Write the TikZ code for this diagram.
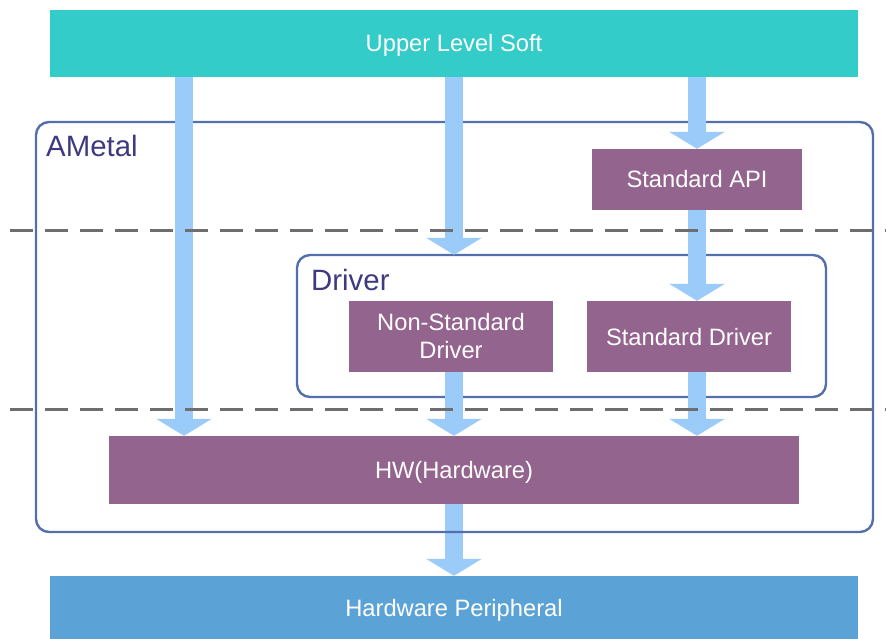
\documentclass[tikz,border=0pt]{standalone}
\usepackage{fontspec}
\setmainfont{Liberation Sans}
\usetikzlibrary{arrows.meta}
\definecolor{teal1}{HTML}{33CCC9}
\definecolor{purp}{HTML}{93648D}
\definecolor{hpblue}{HTML}{5BA3D6}
\definecolor{arrblue}{HTML}{9ACBF9}
\definecolor{framec}{HTML}{5470AC}
\definecolor{navy}{HTML}{3D3A80}
\definecolor{dashc}{HTML}{6E6E6E}
\tikzset{
  box/.style={rectangle, inner sep=0pt, text=white, font=\fontsize{23.7}{28}\selectfont, align=center},
  one/.style={text height=17pt, text depth=0pt},
  pbox/.style={box, fill=purp},
  frm/.style={rectangle, draw=framec, line width=2.4pt, rounded corners=13pt, inner sep=0pt},
  ttl/.style={text=navy, font=\fontsize{29.4}{34}\selectfont, anchor=base west, inner sep=0pt},
  flow/.style={draw=arrblue, line width=18pt, -{Triangle[width=55pt,length=17pt]}},
  sep/.style={draw=dashc, line width=3pt, dash pattern=on 23pt off 12pt},
}
\begin{document}
\begin{tikzpicture}[x=1pt,y=-1pt]
\useasboundingbox (0,0) rectangle (886,639);
% nodes
\node[box, one, fill=teal1, minimum width=808, minimum height=67] (uls) at (454,43.5) {Upper Level Soft};
\node[box, one, fill=hpblue, minimum width=808, minimum height=64] (hp) at (454,608) {Hardware Peripheral};
\node[pbox, one, minimum width=210, minimum height=61] (api) at (697,179.5) {Standard API};
\node[pbox, minimum width=204, minimum height=71] (nsd) at (451,336.5) {Non-Standard\\Driver};
\node[pbox, one, minimum width=204, minimum height=71] (sd) at (689,336.5) {Standard Driver};
\node[pbox, one, minimum width=690, minimum height=68] (hw) at (454,470) {HW(Hardware)};
\coordinate (xa) at (184,0);
\coordinate (xb) at (454,0);
\coordinate (xc) at (697,0);
% bottom arrow (under frame)
\draw[flow] (hw.south -| xb) -- (hp.north -| xb);
% frames
\node[frm, minimum width=837, minimum height=410] (am) at (454.5,327) {};
\node[frm, minimum width=529, minimum height=142] (drv) at (561.5,326) {};
\node[ttl] (amt) at (46,157) {AMetal};
\node[ttl] (drt) at (311,290.5) {Driver};
% arrows
\draw[flow] (uls.south -| xa) -- (hw.north -| xa);
\draw[flow] (uls.south -| xb) -- ([yshift=-1pt]drv.north -| xb);
\draw[flow] (uls.south -| xc) -- (api.north -| xc);
\draw[flow] (api.south -| xc) -- (sd.north -| xc);
\draw[flow] (nsd.south -| xb) -- (hw.north -| xb);
\draw[flow] (sd.south -| xc) -- (hw.north -| xc);
% dashed separators
\coordinate (l1) at (10,231);
\coordinate (r1) at (886,231);
\coordinate (l2) at (10,409);
\coordinate (r2) at (886,409);
\draw[sep] (l1) -- (r1);
\draw[sep] (l2) -- (r2);
\end{tikzpicture}
\end{document}
